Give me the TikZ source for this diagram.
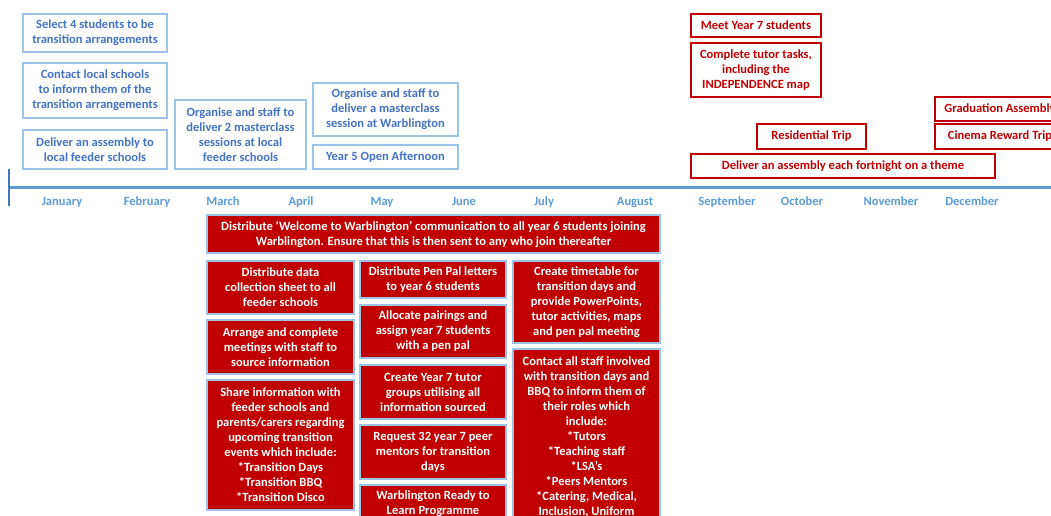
\documentclass[tikz,border=0pt]{standalone}
\usepackage{fontspec}
\setmainfont{Carlito}
\usetikzlibrary{calc}
\newlength{\pxl}
\setlength{\pxl}{0.75pt}
\definecolor{lineblue}{HTML}{9DC3E6}
\definecolor{textblue}{HTML}{4472C4}
\definecolor{monthblue}{HTML}{5B9BD5}
\definecolor{axisblue}{HTML}{4472C4}
\definecolor{planred}{HTML}{C00000}

\begin{document}
\begin{tikzpicture}[x=0.75pt, y=-0.75pt,
  every node/.style={font=\fontsize{9.4}{11.25}\selectfont\bfseries, align=center, inner sep=0pt},
  plan/.style={draw=lineblue, text=textblue, line width=0.9pt},
  event/.style={draw=planred, text=planred, line width=0.9pt},
  task/.style={draw=lineblue, fill=planred, text=white, line width=0.9pt},
  month/.style={text=monthblue, anchor=base}]
\useasboundingbox (0,0) rectangle (1051,515);
\clip (0,0) rectangle (1051,515);
% before the school year
\node[plan, minimum width=144\pxl, minimum height=38\pxl] (select) at (95,33) {Select 4 students to be\\transition arrangements};
\node[plan, minimum width=144\pxl, minimum height=55\pxl] (contact) at (95,90.5) {Contact local schools\\to inform them of the\\transition arrangements};
\node[plan, minimum width=144\pxl, minimum height=39\pxl] (feeder) at (95,149.5) {Deliver an assembly to\\local feeder schools};
\node[plan, minimum width=131\pxl, minimum height=69\pxl] (masterlocal) at (240.5,134.5) {Organise and staff to\\deliver 2 masterclass\\sessions at local\\feeder schools};
\node[plan, minimum width=145\pxl, minimum height=53\pxl] (masterwarb) at (385.5,109.5) {Organise and staff to\\deliver a masterclass\\session at Warblington};
\node[plan, minimum width=145\pxl, minimum height=24\pxl] (openday) at (385.5,157) {Year 5 Open Afternoon};
% after september
\node[event, minimum width=130\pxl, minimum height=23\pxl] (meet) at (756,25.5) {Meet Year 7 students};
\node[event, minimum width=130\pxl, minimum height=54\pxl] (tutor) at (756,70) {Complete tutor tasks,\\including the\\INDEPENDENCE map};
\node[event, minimum width=109\pxl, minimum height=25\pxl] (residential) at (811.5,136.5) {Residential Trip};
\node[event, minimum width=130\pxl, minimum height=24\pxl] (graduation) at (1000,109) {Graduation Assembly};
\node[event, minimum width=130\pxl, minimum height=25\pxl] (cinema) at (1000,136.5) {Cinema Reward Trip};
\node[event, minimum width=304\pxl, minimum height=24\pxl] (fortnight) at (843,166) {Deliver an assembly each fortnight on a theme};
% timeline
\coordinate (start) at (9,187.5);
\coordinate (end) at (1060,187.5);
\coordinate (ticktop) at (9,169);
\coordinate (tickbot) at (9,206);
\draw[monthblue, line width=2.6pt] (start) -- (end);
\draw[axisblue, line width=2.2pt] (ticktop) -- (tickbot);
\foreach \m/\x in {January/62, February/147, March/223, April/301, May/382, June/464, July/544, August/635, September/727, October/802, November/891, December/972}
  \node[month] (\m) at (\x,205) {\m};
% transition tasks
\node[task, minimum width=453\pxl, minimum height=38\pxl] (welcome) at (433.5,234) {Distribute `Welcome to Warblington' communication to all year 6 students joining\\Warblington. Ensure that this is then sent to any who join thereafter};
\node[task, minimum width=147\pxl, minimum height=53\pxl] (datasheet) at (280.5,287.5) {Distribute data\\collection sheet to all\\feeder schools};
\node[task, minimum width=147\pxl, minimum height=54\pxl] (meetings) at (280.5,347) {Arrange and complete\\meetings with staff to\\source information};
\node[task, minimum width=147\pxl, minimum height=130\pxl] (share) at (280.5,445) {Share information with\\feeder schools and\\parents/carers regarding\\upcoming transition\\events which include:\\*Transition Days\\*Transition BBQ\\*Transition Disco};
\node[task, minimum width=146\pxl, minimum height=37\pxl] (penpal) at (433,279.5) {Distribute Pen Pal letters\\to year 6 students};
\node[task, minimum width=146\pxl, minimum height=53\pxl] (pairings) at (433,331.5) {Allocate pairings and\\assign year 7 students\\with a pen pal};
\node[task, minimum width=146\pxl, minimum height=54\pxl] (groups) at (433,392) {Create Year 7 tutor\\groups utilising all\\information sourced};
\node[task, minimum width=146\pxl, minimum height=54\pxl] (mentors) at (433,452) {Request 32 year 7 peer\\mentors for transition\\days};
\node[task, minimum width=146\pxl, minimum height=37\pxl] (ready) at (433,503.5) {Warblington Ready to\\Learn Programme};
\node[task, minimum width=147\pxl, minimum height=82\pxl] (timetable) at (586.5,302) {Create timetable for\\transition days and\\provide PowerPoints,\\tutor activities, maps\\and pen pal meeting};
\node[task, minimum width=147\pxl, minimum height=175\pxl] (staff) at (586.5,436.5) {Contact all staff involved\\with transition days and\\BBQ to inform them of\\their roles which\\include:\\*Tutors\\*Teaching staff\\*LSA's\\*Peers Mentors\\*Catering, Medical,\\Inclusion, Uniform};
\end{tikzpicture}
\end{document}
